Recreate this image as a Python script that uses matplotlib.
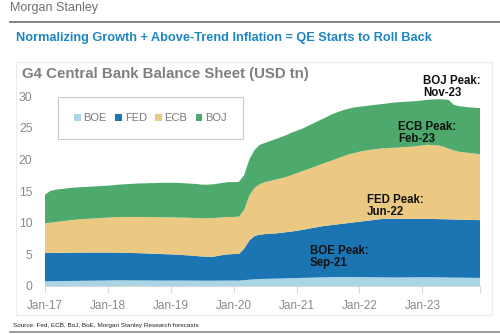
import numpy as np
import matplotlib.pyplot as plt
from matplotlib.patches import Rectangle
from matplotlib.lines import Line2D

plt.rcParams['font.family'] = ['Liberation Sans', 'DejaVu Sans']

# monthly balance sheets, USD tn, Jan-17 .. Dec-23
boe = [0.75, 0.76, 0.77, 0.78, 0.79, 0.80, 0.81, 0.82, 0.83, 0.84, 0.85, 0.86,
       0.88, 0.89, 0.90, 0.90, 0.89, 0.89, 0.88, 0.88, 0.87, 0.87, 0.86, 0.86,
       0.86, 0.87, 0.87, 0.86, 0.86, 0.85, 0.84, 0.84, 0.84, 0.85, 0.85, 0.86,
       0.86, 0.85, 0.92, 1.00, 1.06, 1.10, 1.13, 1.15, 1.17, 1.19, 1.22, 1.25,
       1.26, 1.28, 1.30, 1.32, 1.35, 1.37, 1.39, 1.40, 1.42, 1.41, 1.40, 1.40,
       1.40, 1.40, 1.39, 1.38, 1.37, 1.37, 1.36, 1.35, 1.35, 1.36, 1.37, 1.38,
       1.39, 1.39, 1.38, 1.37, 1.36, 1.35, 1.33, 1.32, 1.31, 1.30, 1.29, 1.28]
fed = [4.45, 4.46, 4.46, 4.46, 4.46, 4.46, 4.46, 4.45, 4.45, 4.44, 4.43, 4.42,
       4.40, 4.39, 4.36, 4.35, 4.33, 4.31, 4.30, 4.27, 4.25, 4.21, 4.19, 4.16,
       4.14, 4.08, 4.03, 3.99, 3.94, 3.87, 3.82, 3.78, 3.78, 3.90, 4.05, 4.14,
       4.19, 4.20, 4.98, 6.20, 6.84, 7.00, 7.07, 7.10, 7.13, 7.21, 7.28, 7.35,
       7.44, 7.57, 7.70, 7.83, 7.95, 8.08, 8.16, 8.25, 8.33, 8.44, 8.55, 8.65,
       8.75, 8.85, 8.96, 9.07, 9.18, 9.23, 9.26, 9.27, 9.25, 9.24, 9.23, 9.22,
       9.21, 9.21, 9.20, 9.19, 9.19, 9.18, 9.17, 9.16, 9.15, 9.14, 9.13, 9.12]
ecb = [4.70, 4.78, 4.87, 4.96, 5.05, 5.14, 5.23, 5.28, 5.32, 5.37, 5.42, 5.47,
       5.52, 5.57, 5.64, 5.65, 5.68, 5.70, 5.72, 5.75, 5.78, 5.80, 5.81, 5.83,
       5.85, 5.88, 5.90, 5.93, 5.95, 6.00, 6.04, 6.08, 6.10, 6.03, 5.95, 5.90,
       5.85, 5.90, 6.10, 7.10, 7.60, 8.00, 8.20, 8.35, 8.50, 8.60, 8.70, 8.90,
       9.10, 9.25, 9.40, 9.55, 9.70, 9.85, 10.05, 10.25, 10.45, 10.65, 10.85, 10.95,
       11.05, 11.10, 11.15, 11.15, 11.15, 11.15, 11.18, 11.23, 11.30, 11.35, 11.40, 11.50,
       11.60, 11.70, 11.67, 11.64, 11.45, 11.17, 10.90, 10.72, 10.64, 10.56, 10.48, 10.40]
boj = [4.50, 5.00, 5.10, 5.10, 5.10, 5.10, 5.05, 5.05, 5.05, 5.05, 5.05, 5.05,
       5.05, 5.05, 5.10, 5.15, 5.20, 5.25, 5.30, 5.30, 5.35, 5.37, 5.44, 5.45,
       5.45, 5.47, 5.45, 5.42, 5.40, 5.38, 5.30, 5.30, 5.33, 5.37, 5.45, 5.50,
       5.50, 5.50, 5.50, 5.70, 6.00, 6.20, 6.20, 6.30, 6.40, 6.50, 6.60, 6.70,
       6.70, 6.70, 6.80, 6.90, 7.00, 7.10, 7.20, 7.30, 7.30, 7.30, 7.20, 7.20,
       7.10, 7.05, 7.00, 7.00, 7.00, 7.05, 7.10, 7.15, 7.15, 7.15, 7.15, 7.10,
       7.10, 7.10, 7.20, 7.30, 7.45, 7.70, 7.20, 7.20, 7.20, 7.20, 7.25, 7.30]

names = ['BOE', 'FED', 'ECB', 'BOJ']
colors = ['#a9d5e5', '#1b75b2', '#ebc982', '#4eaa6c']
year_labels = ['Jan-17', 'Jan-18', 'Jan-19', 'Jan-20', 'Jan-21', 'Jan-22', 'Jan-23']
peaks = [('BOJ Peak:\nNov-23', 423, 75), ('ECB Peak:\nFeb-23', 398, 121),
         ('FED Peak:\nJun-22', 367, 194), ('BOE Peak:\nSep-21', 310, 245)]

W, H = 500, 334
fig = plt.figure(figsize=(W / 100, H / 100), dpi=100)

def fx(px):
    return px / W

def fy(py):
    return 1 - py / H

# page header
fig.text(fx(10), fy(8), 'Morgan Stanley', fontsize=9, color='#707070', va='center')
fig.add_artist(Line2D([fx(10), 1], [fy(22), fy(22)], color='#7a7a7a', lw=1.3))
fig.text(fx(16), fy(38), 'Normalizing Growth + Above-Trend Inflation = QE Starts to Roll Back',
         fontsize=9.2, color='#1c86c2', fontweight='bold', va='center')

# chart panel
fig.add_artist(Rectangle((fx(16), fy(315)), fx(492) - fx(16), fy(62) - fy(315),
                         transform=fig.transFigure, fill=False, ec='#ececec', lw=0.8))
fig.text(fx(22), fy(74), 'G4 Central Bank Balance Sheet (USD tn)', fontsize=10.8,
         color='#7f7f7f', fontweight='bold', va='center')

ax = fig.add_axes([fx(45), fy(286), fx(480) - fx(45), fy(96) - fy(286)])
x = np.arange(len(boe))
polys = ax.stackplot(x, boe, fed, ecb, boj, colors=colors, lw=0)

ax.set_xlim(0, len(boe) - 1)
ax.set_ylim(0, 30)
ax.set_xticks(list(range(0, 84, 12)) + [len(boe) - 1])
ax.set_xticklabels(year_labels + [''])
ax.set_yticks(range(0, 31, 5))
ax.tick_params(axis='x', length=5, width=0.8, color='#d9d9d9', pad=5,
               labelsize=8.5, labelcolor='#8a8a8a')
ax.tick_params(axis='y', length=0, pad=9, labelsize=8.7, labelcolor='#8a8a8a')
for side in ['top', 'right', 'left']:
    ax.spines[side].set_visible(False)
ax.spines['bottom'].set_color('#d9d9d9')
ax.spines['bottom'].set_linewidth(0.8)

leg = ax.legend(polys, names, loc='upper left', bbox_to_anchor=(fx(58), fy(97)),
                bbox_transform=fig.transFigure, ncol=4, fontsize=8, frameon=True,
                fancybox=False, edgecolor='#bdbdbd', handlelength=0.6, handleheight=0.6,
                handletextpad=0.25, columnspacing=0.75, borderpad=1.45, borderaxespad=0)
leg.get_frame().set_linewidth(0.8)
for t in leg.get_texts():
    t.set_color('#7a7a7a')

for label, px, py in peaks:
    fig.text(fx(px), fy(py), label, fontsize=8.3, fontweight='bold', color='#111111',
             va='top', linespacing=1.05)

# footer
fig.text(fx(13), fy(325), 'Source: Fed, ECB, BoJ, BoE, Morgan Stanley Research forecasts',
         fontsize=4.6, color='#222222', va='center')
fig.add_artist(Line2D([fx(10), 1], [fy(332), fy(332)], color='#8a8a8a', lw=1.2))

fig.savefig('out.png', dpi=100)
